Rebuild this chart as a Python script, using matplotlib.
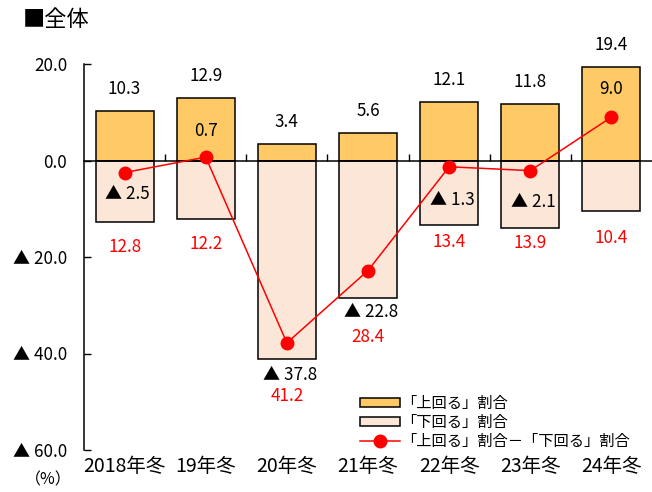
import matplotlib
matplotlib.use("Agg")
import matplotlib.pyplot as plt

plt.rcParams['font.family'] = ['Noto Sans CJK JP', 'DejaVu Sans']

categories = ["2018年冬", "19年冬", "20年冬", "21年冬", "22年冬", "23年冬", "24年冬"]
up_values = [10.3, 12.9, 3.4, 5.6, 12.1, 11.8, 19.4]
down_values = [12.8, 12.2, 41.2, 28.4, 13.4, 13.9, 10.4]
diff_values = [-2.5, 0.7, -37.8, -22.8, -1.3, -2.1, 9.0]
ytick_values = [20, 0, -20, -40, -60]
ytick_labels = ["20.0", "0.0", "▲ 20.0", "▲ 40.0", "▲ 60.0"]
legend_labels = ["「上回る」割合", "「下回る」割合", "「上回る」割合－「下回る」割合"]

# label layout (pixel offsets relative to marks)
down_label_off = [-25, -25, -37, -39, -17, -15, -27]   # below bar bottom
diff_label_off = [-21, 26, -32, -41, -33, -31, 28]     # relative to point

fig = plt.figure(figsize=(6.52, 4.92), dpi=100)
ax = fig.add_axes([84/652, 1-450/492, (652-84)/652, (450-64)/492])

x = list(range(len(categories)))
up_color = "#FFCA66"
down_color = "#FCE6D8"
red = "#FF0000"
bw = 0.715
fs = 12.3

b1 = ax.bar(x, up_values, width=bw, color=up_color, edgecolor="black", linewidth=1.1, zorder=2)
b2 = ax.bar(x, [-v for v in down_values], width=bw, color=down_color, edgecolor="black", linewidth=1.1, zorder=2)
ln, = ax.plot(x, diff_values, color=red, lw=1.1, marker='o', markersize=9, zorder=4)

ax.set_xlim(-0.5, len(categories) - 0.5)
ax.set_ylim(-60, 20)

ax.spines['top'].set_visible(False)
ax.spines['right'].set_visible(False)
ax.spines['bottom'].set_position(('data', 0))
ax.spines['bottom'].set_linewidth(1.1)
ax.spines['bottom'].set_zorder(3)
ax.spines['left'].set_linewidth(1.1)

ax.set_yticks(ytick_values)
ax.set_yticklabels(ytick_labels, fontsize=fs)
ax.tick_params(axis='y', direction='in', length=5, width=1.0, pad=12)
ax.set_xticks([i + 0.5 for i in range(len(categories) - 1)])
ax.set_xticklabels([])
ax.tick_params(axis='x', direction='in', length=5, width=1.0)

for i, c in enumerate(categories):
    ax.annotate(c, xy=(i, 0), xycoords=('data', 'axes fraction'), xytext=(0, -17),
                textcoords='offset pixels', ha='center', va='center', fontsize=14)

for i, v in enumerate(up_values):
    ax.annotate(f"{v:.1f}", xy=(i, v), xytext=(0, 22), textcoords='offset pixels',
                ha='center', va='center', fontsize=fs, annotation_clip=False)

for i, v in enumerate(down_values):
    ax.annotate(f"{v:.1f}", xy=(i, -v), xytext=(0, down_label_off[i]), textcoords='offset pixels',
                ha='center', va='center', fontsize=fs, color=red)

for i, v in enumerate(diff_values):
    txt = f"▲ {abs(v):.1f}" if v < 0 else f"{v:.1f}"
    ax.annotate(txt, xy=(i, v), xytext=(3 if v < 0 else 0, diff_label_off[i]), textcoords='offset pixels',
                ha='center', va='center', fontsize=fs, color='black')

fig.text(23/652, 1-20/492, "■全体", fontsize=16, ha='left', va='center')
fig.text(48/652, 1-480/492, "（%）", fontsize=11.5, ha='center', va='center')

leg = ax.legend([b1, b2, ln], legend_labels, loc='upper left', bbox_to_anchor=(360/652, 1-395/492),
                bbox_transform=fig.transFigure, frameon=False, fontsize=11,
                handlelength=2.6, handleheight=0.55, labelspacing=0.12, handletextpad=0.1,
                borderaxespad=0, borderpad=0)

fig.savefig("out.png", dpi=100)
